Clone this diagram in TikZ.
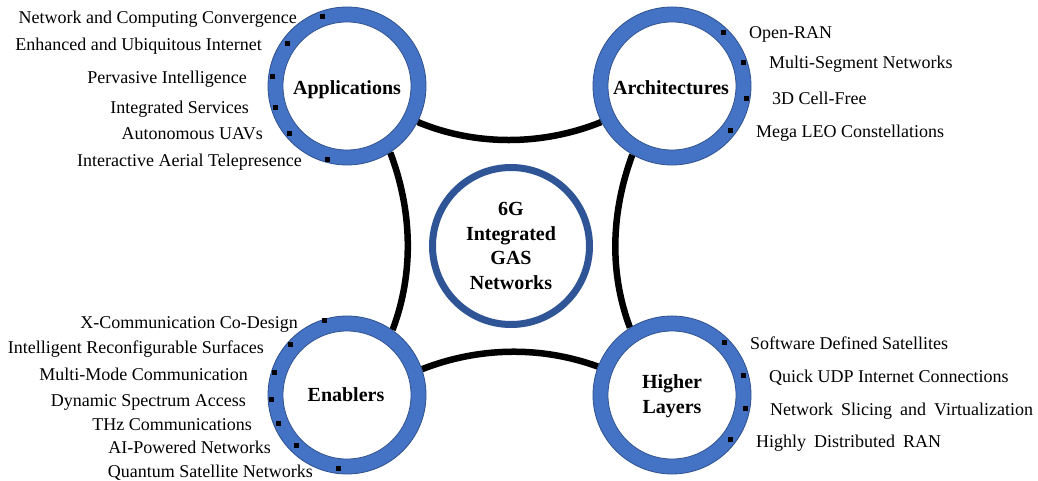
\documentclass[tikz,border=0pt]{standalone}
\usepackage{fontspec}
\setmainfont{Liberation Serif}
\usetikzlibrary{backgrounds}
\definecolor{ringblue}{HTML}{4472C4}
\definecolor{ringedge}{HTML}{2F528F}
\definecolor{coreblue}{HTML}{2F5597}
\tikzset{
 ringouter/.style={circle, minimum size=158pt, inner sep=0pt, fill=ringblue, draw=ringedge, line width=0.8pt},
 ringinner/.style={circle, minimum size=128pt, inner sep=0pt, fill=white, draw=ringedge, line width=0.8pt},
 hub/.style={circle, minimum size=157pt, inner sep=0pt, draw=coreblue, line width=7pt, fill=white, font=\bfseries\fontsize{20}{24.4}\selectfont, align=center},
 title/.style={font=\bfseries\fontsize{20}{25}\selectfont, inner sep=0pt, align=center},
 item/.style={font=\fontsize{18}{21.6}\selectfont, inner sep=0pt},
 lft/.style={item, anchor=base east},
 rgt/.style={item, anchor=base west},
 bullet/.style={rectangle, fill=black, minimum size=5pt, inner sep=0pt},
 link/.style={line width=6.5pt, black},
}
\begin{document}
\begin{tikzpicture}[x=1pt,y=-1pt]
\useasboundingbox (0,0) rectangle (1038,481);
% rings
\node[ringouter] (A) at (347,86) {};
\node[ringinner] (Ai) at (A) {};
\node[ringouter] (B) at (672,86) {};
\node[ringinner] (Bi) at (B) {};
\node[ringouter] (C) at (347,395) {};
\node[ringinner] (Ci) at (C) {};
\node[ringouter] (D) at (672,395) {};
\node[ringinner] (Di) at (D) {};
\node[hub] (H) at (511,246) {6G\\Integrated\\GAS\\Networks};
% titles
\node[title, anchor=base] (tA) at (347,95) {Applications};
\node[title, anchor=base] (tB) at (671,95) {Architectures};
\node[title, anchor=base] (tC) at (346,401) {Enablers};
\node[title] (tD) at (672,396) {Higher\\Layers};
% connectors
\begin{scope}[on background layer]
\fill[white] (0,0) rectangle (1038,481);
\draw[link] (A.-27) .. controls (475,146) and (542,146) .. (B.207);
\draw[link] (A.-57) .. controls (411.9,209.4) and (414.5,272.2) .. (C.55);
\draw[link] (B.-120) .. controls (611.3,211.8) and (608.9,271.6) .. (D.122.6);
\draw[link] (C.19.7) .. controls (478.2,347.2) and (540.2,345.6) .. (D.159.4);
\end{scope}
% bullets
\node[bullet] (a1) at (322.7,16.7) {};
\node[bullet] (a2) at (287.3,43.7) {};
\node[bullet] (a3) at (272.7,76.3) {};
\node[bullet] (a4) at (275,107.3) {};
\node[bullet] (a5) at (289.3,133.3) {};
\node[bullet] (a6) at (327.3,159.3) {};
\node[bullet] (b1) at (723.3,32.7) {};
\node[bullet] (b2) at (743.3,62.3) {};
\node[bullet] (b3) at (746,98.3) {};
\node[bullet] (b4) at (730.7,130.7) {};
\node[bullet] (c1) at (324,320) {};
\node[bullet] (c2) at (290,344.3) {};
\node[bullet] (c3) at (274,372.7) {};
\node[bullet] (c4) at (271.7,399) {};
\node[bullet] (c5) at (278.3,423.3) {};
\node[bullet] (c6) at (296.7,445) {};
\node[bullet] (c7) at (338.3,468.3) {};
\node[bullet] (d1) at (724,342.3) {};
\node[bullet] (d2) at (743.3,375) {};
\node[bullet] (d3) at (745,408.3) {};
\node[bullet] (d4) at (730.7,439.3) {};
% items
\node[lft] (ia1) at (297,24) {Network and Computing Convergence};
\node[lft] (ia2) at (262,51) {Enhanced and Ubiquitous Internet};
\node[lft] (ia3) at (247,84) {Pervasive Intelligence};
\node[lft] (ia4) at (249,114) {Integrated Services};
\node[lft] (ia5) at (263,140) {Autonomous UAVs};
\node[lft] (ia6) at (302,167) {Interactive Aerial Telepresence};
\node[rgt] (ib1) at (749,39) {Open-RAN};
\node[rgt] (ib2) at (769,69) {Multi-Segment Networks};
\node[rgt] (ib3) at (772,105) {3D Cell-Free};
\node[rgt] (ib4) at (756,138) {Mega LEO Constellations};
\node[lft] (ic1) at (298,328) {X-Communication Co-Design};
\node[lft] (ic2) at (264,353) {Intelligent Reconfigurable Surfaces};
\node[lft] (ic3) at (248,380) {Multi-Mode Communication};
\node[lft] (ic4) at (246,406) {Dynamic Spectrum Access};
\node[lft] (ic5) at (252,430) {THz Communications};
\node[lft] (ic6) at (271,453) {AI-Powered Networks};
\node[lft] (ic7) at (313,477) {Quantum Satellite Networks};
\node[rgt] (id1) at (750,349) {Software Defined Satellites};
\node[rgt] (id2) at (769,382) {Quick UDP Internet Connections};
\node[rgt] (id3) at (770,415) {Network\hspace{3.5pt} Slicing\hspace{3.5pt} and\hspace{3.5pt} Virtualization};
\node[rgt] (id4) at (756,447) {Highly\hspace{3.5pt} Distributed\hspace{3.5pt} RAN};
\end{tikzpicture}
\end{document}
